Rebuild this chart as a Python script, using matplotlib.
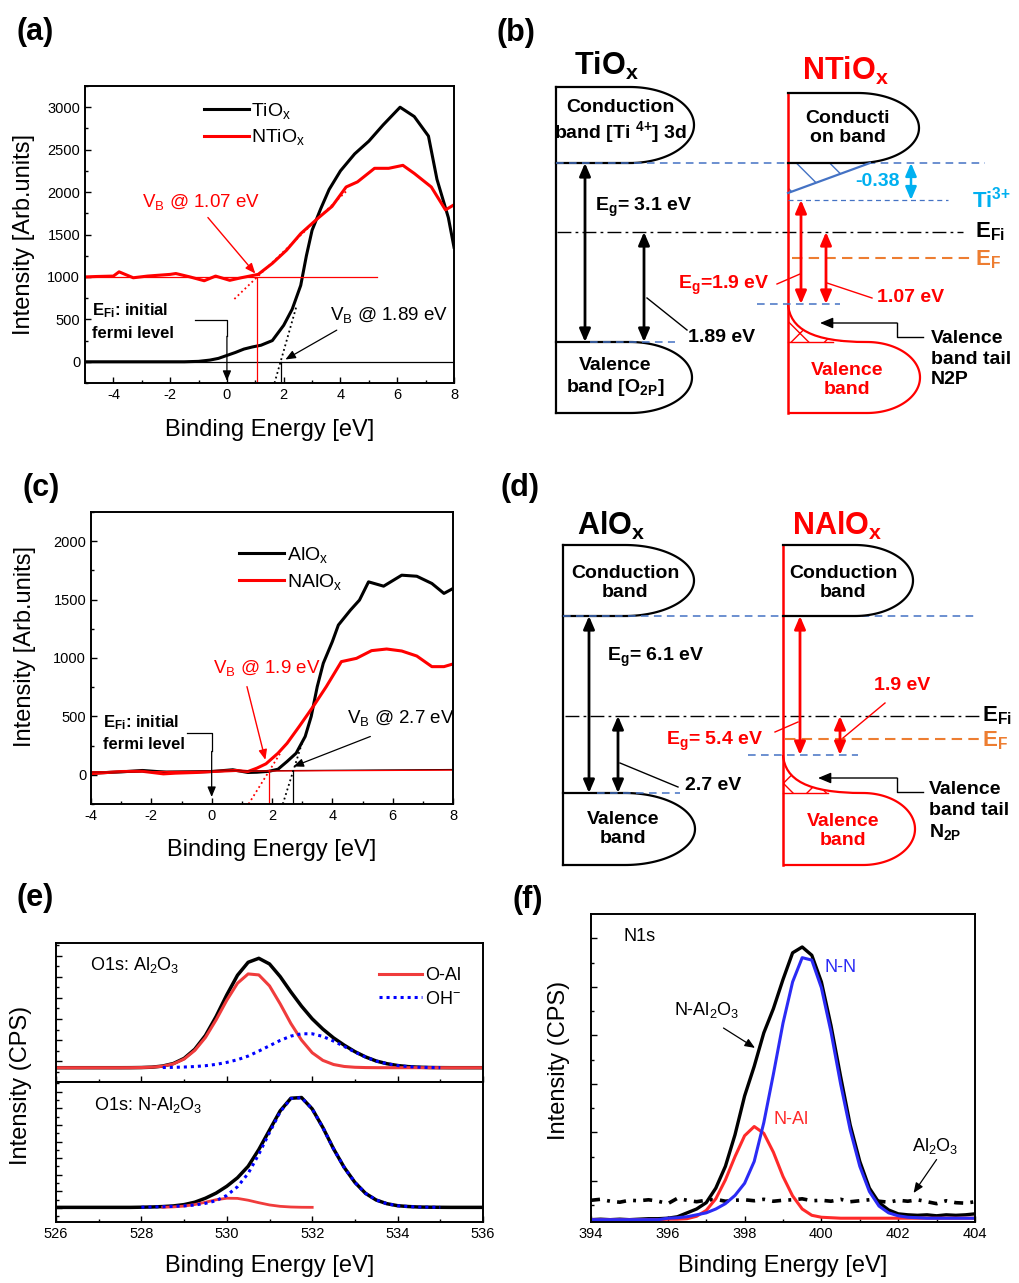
import numpy as np
import matplotlib
matplotlib.use('Agg')
import matplotlib.pyplot as plt
from matplotlib.path import Path
from matplotlib.patches import PathPatch, Polygon
from matplotlib.ticker import MultipleLocator, FixedLocator, NullFormatter

plt.rcParams['font.family'] = ['Liberation Sans', 'DejaVu Sans']
plt.rcParams['mathtext.fontset'] = 'custom'
plt.rcParams['mathtext.rm'] = 'Liberation Sans'
plt.rcParams['mathtext.it'] = 'Liberation Sans:italic'
plt.rcParams['mathtext.bf'] = 'Liberation Sans:bold'
plt.rcParams['mathtext.default'] = 'regular'
plt.rcParams['axes.unicode_minus'] = False

# ---------------- data ----------------
# (a) valence band spectra, TiOx / NTiOx
a_x_tiox = [-5, -4, -3, -2, -1.5, -1.0, -0.6, -0.3, 0.0, 0.3, 0.6, 0.9, 1.2, 1.6,
            2.0, 2.3, 2.6, 2.8, 3.0, 3.3, 3.6, 4.0, 4.5, 5.0, 5.5, 6.1, 6.6, 7.1,
            7.4, 7.8, 8.0]
a_y_tiox = [0, 0, 0, 0, 0, 5, 20, 40, 75, 110, 150, 175, 195, 250,
            430, 620, 900, 1250, 1550, 1800, 2030, 2250, 2450, 2600, 2790, 3000, 2890, 2660,
            2150, 1700, 1350]
a_x_ntiox = [-5, -4.6, -4.0, -3.8, -3.3, -2.8, -2.0, -1.8, -1.3, -0.8, -0.4, 0.1, 0.5,
             1.1, 1.6, 2.1, 2.6, 3.2, 3.7, 4.2, 4.6, 5.2, 5.7, 6.2, 6.6, 7.2, 7.7, 8.0]
a_y_ntiox = [1000, 1005, 1010, 1060, 990, 1010, 1030, 1040, 1000, 955, 1010, 960, 990,
             1030, 1160, 1315, 1510, 1690, 1830, 2060, 2120, 2280, 2280, 2315, 2220, 2060, 1790, 1850]
a_vb = [1.89, 1.07]            # onsets TiOx, NTiOx
a_base = [0, 1000]             # baselines TiOx, NTiOx
a_slope = [1170, 322]          # leading-edge fit slopes

# (c) valence band spectra, AlOx / NAlOx
c_x_alox = [-4, -3, -2.3, -1.5, -0.5, 0, 0.7, 1.2, 1.5, 1.9, 2.2, 2.5, 2.8, 3.1, 3.3, 3.5,
            3.7, 4.0, 4.2, 4.6, 4.9, 5.2, 5.7, 6.3, 6.8, 7.3, 7.7, 8.0]
c_y_alox = [14, 25, 37, 22, 25, 28, 43, 20, 22, 30, 48, 114, 185, 328, 500, 755,
            955, 1140, 1282, 1410, 1496, 1652, 1615, 1709, 1700, 1638, 1553, 1595]
c_x_nalox = [-4, -3, -2.3, -1.6, -1.2, -0.5, 0, 0.8, 1.2, 1.5, 1.8, 2.2, 2.5, 2.9, 3.4,
             3.8, 4.3, 4.8, 5.3, 5.8, 6.3, 6.8, 7.3, 7.7, 8.0]
c_y_nalox = [10, 28, 30, 8, 14, 20, 28, 37, 28, 57, 94, 185, 270, 413, 598,
             755, 969, 997, 1063, 1077, 1060, 1017, 926, 926, 949]
c_vb = [2.7, 1.9]
c_base = [30, 30]
c_slope = [820, 414]

# (e) O1s, 526..536 eV every 0.25 eV
e_x = np.arange(526, 536.001, 0.25)
nan = np.nan
e_top_total = [0, 0, 0, 0, 0, 0, 0, 0.1, 0.5, 1.6, 5.0, 12.6, 28, 55.5, 97, 154, 219, 278,
               317, 329, 312, 274, 228, 185, 147, 116, 89.6, 67.7, 48.3, 32.4, 20.1, 12,
               6.5, 3.2, 1.5, 0.6, 0.2, 0, 0, 0, 0]
e_top_oal = [0, 0, 0, 0, 0, 0, 0, 0.1, 0.5, 1.6, 4.5, 11.6, 26, 52, 91, 144, 203, 254, 282,
             279, 246, 192, 133, 83, 45, 22, 9.6, 3.7, 1.3, 0.4, 0.1, 0, 0, 0, 0, 0, 0, 0,
             0, 0, 0]
e_top_oh = [nan] * 10 + [0.5, 1, 2, 3.5, 6, 10, 16, 24, 35, 50, 66, 82, 95, 102, 102, 94, 80,
                         64, 47, 32, 20, 12, 6.5, 3.2, 1.5, 0.6, 0.2] + [nan] * 4
e_bot_total = [0] * 8 + [0.5, 1.2, 2.4, 4.4, 8.3, 15.5, 27.5, 42.9, 63.5, 89, 123.5, 174,
                         232.3, 290.1, 328.1, 330.3, 296.1, 240, 176, 120, 75, 42, 22, 11,
                         5, 2.5, 1, 0.5, 0.2] + [0] * 4
e_bot_oal = [nan] * 10 + [0.4, 1.4, 3.8, 8.5, 15.5, 22.9, 27.5, 27, 21.5, 14, 7.3, 3.1,
                          1.1, 0.3, 0.1] + [nan] * 16
e_bot_oh = [nan] * 8 + [0.5, 1.2, 2, 3, 4.5, 7, 12, 20, 36, 62, 102, 160, 225, 287, 327,
                        330, 296, 240, 176, 120, 75, 42, 22, 11, 5, 2.5, 1, 0.5, 0.2] + [nan] * 4

# (f) N1s, 394..404 eV every 0.25 eV
f_x = np.arange(394, 404.001, 0.25)
f_total = [0.00, 0.01, 0.00, 0.01, 0.00, 0.01, 0.02, 0.02, 0.03, 0.06, 0.14, 0.22, 0.35,
           0.65, 1.10, 1.75, 2.55, 3.16, 3.85, 4.35, 4.95, 5.50, 5.62, 5.45, 4.90, 4.00,
           2.95, 1.95, 1.20, 0.65, 0.35, 0.20, 0.12, 0.10, 0.09, 0.10, 0.08, 0.10, 0.09,
           0.10, 0.12]
f_nn = [0] * 8 + [0.03, 0.04, 0.06, 0.10, 0.14, 0.22, 0.33, 0.50, 0.75, 1.20, 2.00, 3.00,
                  4.05, 4.90, 5.40, 5.35, 4.78, 3.87, 2.80, 1.85, 1.10, 0.58, 0.28, 0.14,
                  0.08, 0.05, 0.04, 0.03, 0.03, 0.03, 0.03, 0.03, 0.03]
f_nal = [0] * 8 + [0.01, 0.01, 0.02, 0.07, 0.19, 0.43, 0.82, 1.30, 1.73, 1.92, 1.78, 1.39,
                   0.89, 0.49, 0.22, 0.09, 0.05, 0.04, 0.03] + [0.03] * 14
f_al2o3 = [0.40, 0.42, 0.38, 0.36, 0.40, 0.39, 0.41, 0.38, 0.33, 0.44,
           0.40, 0.37, 0.40, 0.42, 0.38, 0.40, 0.41, 0.39, 0.42, 0.38,
           0.40, 0.41, 0.43, 0.39, 0.40, 0.38, 0.42, 0.37, 0.39, 0.41,
           0.38, 0.36, 0.40, 0.38, 0.41, 0.37, 0.33, 0.39, 0.35, 0.34, 0.37]

RED = '#ff0000'
BLUE_D = '#4472c4'
LBLUE = '#00b0f0'
ORANGE = '#ed7d31'

W, H = 1019, 1283
fig = plt.figure(figsize=(W / 100, H / 100), dpi=100)


def box(l, t, r, b):
    return [l / W, 1 - b / H, (r - l) / W, (b - t) / H]


def style(ax):
    ax.tick_params(which='both', direction='in', top=False, right=False, labelsize=10.5, width=1)
    ax.tick_params(which='major', length=4.5)
    ax.tick_params(which='minor', length=2.5)
    for s in ax.spines.values():
        s.set_linewidth(1.4)


def arrow(ax, p_from, p_to, color='k', lw=1.0, ms=10):
    ax.annotate('', xy=p_to, xytext=p_from,
                arrowprops=dict(arrowstyle='-|>,head_length=0.6,head_width=0.25', color=color,
                                lw=lw, shrinkA=0, shrinkB=0, mutation_scale=ms))


def darrow(ax, x, y1, y2, color='k', lw=2.0):
    ax.annotate('', xy=(x, y1), xytext=(x, y2),
                arrowprops=dict(arrowstyle='<|-|>,head_length=0.7,head_width=0.3', color=color,
                                lw=lw, shrinkA=0, shrinkB=0, mutation_scale=11))


def spectrum(ax, xs, ys, labels, xl, ylim_top):
    ax.plot(xs[0], ys[0], color='k', lw=2.2, label=labels[0])
    ax.plot(xs[1], ys[1], color=RED, lw=2.2, label=labels[1])
    ax.set_xlim(*xl)
    ax.set_ylim(-250, ylim_top)
    ax.xaxis.set_major_locator(MultipleLocator(2))
    ax.xaxis.set_minor_locator(MultipleLocator(1))
    ax.yaxis.set_major_locator(MultipleLocator(500))
    ax.yaxis.set_minor_locator(MultipleLocator(250))
    style(ax)
    ax.set_xlabel('Binding Energy [eV]', fontsize=17)
    ax.set_ylabel('Intensity [Arb.units]', fontsize=17)


# ---------------- (a) ----------------
ax = fig.add_axes(box(85, 86, 454, 383))
spectrum(ax, [a_x_tiox, a_x_ntiox], [a_y_tiox, a_y_ntiox], ['TiO$_x$', 'NTiO$_x$'],
         (-5, 8), 3250)
ax.plot([-5, 8], [a_base[0]] * 2, color='k', lw=0.9)
ax.plot([-5, 5.28], [a_base[1]] * 2, color=RED, lw=0.9)
ax.plot([a_vb[1]] * 2, [-250, a_base[1]], color=RED, lw=0.9)
ax.plot([a_vb[0]] * 2, [-250, a_base[0]], color='k', lw=0.9)
yy = np.array([-250, 650])
ax.plot(a_vb[0] + (yy - a_base[0]) / a_slope[0], yy, color='k', lw=1.3, ls=':')
yy = np.array([740, 2030])
ax.plot(a_vb[1] + (yy - a_base[1]) / a_slope[1], yy, color=RED, lw=1.3, ls=':')
ax.text(-2.98, 1885, 'V$_B$ @ 1.07 eV', color=RED, fontsize=13.5, va='center')
arrow(ax, (-0.67, 1700), (1.0, 1040), color=RED, lw=1.0)
ax.text(3.64, 550, 'V$_B$ @ 1.89 eV', color='k', fontsize=13.5, va='center')
arrow(ax, (3.87, 373), (2.06, 27), color='k', lw=0.9)
ax.text(-4.74, 480, 'E$_{Fi}$: initial\nfermi level', fontsize=12, fontweight='bold',
        va='center', linespacing=1.45)
ax.plot([-1.11, 0, 0], [498, 498, 300], color='k', lw=0.9)
arrow(ax, (0, 300), (0, -225), color='k', lw=0.9)
ax.legend(loc='upper left', bbox_to_anchor=(0.322, 0.951), frameon=False, fontsize=14,
          handlelength=2.3, handletextpad=0.15, labelspacing=0.35, borderpad=0,
          borderaxespad=0)
ax.yaxis.set_label_coords(-0.135, 0.5)
ax.xaxis.set_label_coords(0.5, -0.122)

# ---------------- (c) ----------------
ax = fig.add_axes(box(91, 512, 453, 804))
spectrum(ax, [c_x_alox, c_x_nalox], [c_y_alox, c_y_nalox], ['AlO$_x$', 'NAlO$_x$'],
         (-4, 8), 2250)
ax.plot([-4, 8], [25, 45], color='k', lw=0.9)
ax.plot([-4, 8], [25, 40], color=RED, lw=0.9)
ax.plot([c_vb[1]] * 2, [-250, c_base[1]], color=RED, lw=0.9)
ax.plot([c_vb[0]] * 2, [-250, c_base[0] + 5], color='k', lw=0.9)
yy = np.array([-250, 300])
ax.plot(c_vb[0] + (yy - c_base[0]) / c_slope[0], yy, color='k', lw=1.3, ls=':')
yy = np.array([-250, 185])
ax.plot(c_vb[1] + (yy - c_base[1]) / c_slope[1], yy, color=RED, lw=1.3, ls=':')
ax.text(0.06, 912, 'V$_B$ @ 1.9 eV', color=RED, fontsize=13.5, va='center')
arrow(ax, (1.17, 755), (1.78, 128), color=RED, lw=1.0)
ax.text(4.48, 484, 'V$_B$ @ 2.7 eV', color='k', fontsize=13.5, va='center')
arrow(ax, (5.26, 328), (2.71, 71), color='k', lw=0.9)
ax.text(-3.59, 363, 'E$_{Fi}$: initial\nfermi level', fontsize=12, fontweight='bold',
        va='center', linespacing=1.45)
ax.plot([-0.83, 0, 0], [356, 356, 200], color='k', lw=0.9)
arrow(ax, (0, 200), (0, -190), color='k', lw=0.9)
ax.legend(loc='upper left', bbox_to_anchor=(0.41, 0.888), frameon=False, fontsize=14,
          handlelength=2.3, handletextpad=0.15, labelspacing=0.35, borderpad=0,
          borderaxespad=0)
ax.yaxis.set_label_coords(-0.152, 0.538)
ax.xaxis.set_label_coords(0.5, -0.12)

# ---------------- (e) ----------------
E_RED = '#f03c3c'
ax1 = fig.add_axes(box(56, 943, 483, 1082))
ax2 = fig.add_axes(box(56, 1082, 483, 1222), sharex=ax1)
ax1.plot(e_x, e_top_total, color='k', lw=2.5)
ax1.plot(e_x, e_top_oal, color=E_RED, lw=2.2, label='O-Al')
ax1.plot(e_x, e_top_oh, color='#0000ff', lw=2.2, ls=(0, (1, 1.3)), label='OH$^{-}$')
ax2.plot(e_x, e_bot_total, color='k', lw=2.5)
ax2.plot(e_x, e_bot_oal, color=E_RED, lw=2.0)
ax2.plot(e_x, e_bot_oh, color='#0000ff', lw=2.2, ls=(0, (1, 1.3)))
ax1.set_xlim(526, 536)
ax1.set_ylim(-43, 375)
ax2.set_ylim(-44, 377)
for a in (ax1, ax2):
    style(a)
    a.xaxis.set_major_locator(MultipleLocator(2))
    a.xaxis.set_minor_locator(MultipleLocator(1))
    a.yaxis.set_major_formatter(NullFormatter())
ax1.yaxis.set_major_locator(MultipleLocator(63.5, offset=19.5))
ax1.yaxis.set_minor_locator(MultipleLocator(31.75, offset=19.5))
ax2.yaxis.set_major_locator(MultipleLocator(50, offset=48))
ax2.yaxis.set_minor_locator(MultipleLocator(25, offset=23))
ax1.tick_params(labelbottom=False)
ax1.text(526.8, 308, 'O1s: Al$_2$O$_3$', fontsize=13, va='center')
ax2.text(526.9, 308, 'O1s: N-Al$_2$O$_3$', fontsize=13, va='center')
ax1.legend(loc='upper left', bbox_to_anchor=(0.756, 0.824), frameon=False, fontsize=13,
           handlelength=2.4, handletextpad=0.15, labelspacing=0.35, borderpad=0,
           borderaxespad=0)
ax2.set_xlabel('Binding Energy [eV]', fontsize=17)
ax2.xaxis.set_label_coords(0.5, -0.235)
fig.text(21 / W, 1 - 1085 / H, 'Intensity (CPS)', rotation=90, fontsize=17,
         ha='center', va='center')

# ---------------- (f) ----------------
F_BLUE = '#2b2bf5'
F_RED = '#ff2a2a'
ax = fig.add_axes(box(591, 914, 975, 1222))
ax.plot(f_x, f_al2o3, color='k', lw=2.6, dashes=(2.5, 2, 0.8, 2))
ax.plot(f_x, f_total, color='k', lw=2.4)
ax.plot(f_x, f_nal, color=F_RED, lw=2.2)
ax.plot(f_x, f_nn, color=F_BLUE, lw=2.2)
ax.set_xlim(394, 404)
ax.set_ylim(-0.048, 6.30)
ax.xaxis.set_major_locator(MultipleLocator(2))
ax.xaxis.set_minor_locator(MultipleLocator(1))
ax.yaxis.set_major_locator(FixedLocator(np.arange(0.8, 6.0, 1.0)))
ax.yaxis.set_minor_locator(FixedLocator(np.arange(0.3, 6.0, 1.0)))
ax.yaxis.set_major_formatter(NullFormatter())
style(ax)
ax.text(394.84, 5.84, 'N1s', fontsize=13, va='center')
ax.text(400.07, 5.19, 'N-N', fontsize=13, va='center', color=F_BLUE)
ax.text(398.75, 2.06, 'N-Al', fontsize=13, va='center', color=F_RED)
ax.text(396.15, 4.33, 'N-Al$_2$O$_3$', fontsize=13, va='center')
arrow(ax, (397.45, 3.95), (398.27, 3.54), lw=0.9)
ax.text(402.36, 1.51, 'Al$_2$O$_3$', fontsize=13, va='center')
arrow(ax, (403.0, 1.24), (402.4, 0.55), lw=0.9)
ax.set_xlabel('Binding Energy [eV]', fontsize=17)
ax.set_ylabel('Intensity (CPS)', fontsize=17)
ax.yaxis.set_label_coords(-0.055, 0.526)
ax.xaxis.set_label_coords(0.5, -0.108)


# ---------------- band diagrams (b), (d) ----------------
def d_band(ax, x0, xe, tip, top, bot, color='k', lw=1.6):
    t = np.linspace(-np.pi / 2, np.pi / 2, 80)
    xs = np.concatenate([[x0, xe], xe + (tip - xe) * np.cos(t), [x0]])
    ys = np.concatenate([[top, top], (top + bot) / 2 + (bot - top) / 2 * np.sin(t), [bot]])
    ax.plot(xs, ys, color=color, lw=lw)


def tail_band(ax, x0, xe, tip, ttop, top, bot, color, lw=1.6):
    t = np.linspace(-np.pi / 2, np.pi / 2, 80)
    ex = xe + (tip - xe) * np.cos(t)
    ey = (top + bot) / 2 + (bot - top) / 2 * np.sin(t)
    tv = [(x0, ttop), (x0 + 2, ttop + 0.65 * (top - ttop)), (x0 + 0.3 * (xe - x0), top), (xe, top)]
    verts = tv + list(zip(ex[1:], ey[1:])) + [(x0, bot)]
    codes = [Path.MOVETO] + [Path.CURVE4] * 3 + [Path.LINETO] * len(ex)
    ax.add_patch(PathPatch(Path(verts, codes), fill=False, edgecolor=color, lw=lw))
    hv = tv + [(x0, top), (x0, ttop)]
    hc = [Path.MOVETO] + [Path.CURVE4] * 3 + [Path.LINETO, Path.CLOSEPOLY]
    ax.add_patch(PathPatch(Path(hv, hc), facecolor='none', edgecolor=color, lw=0, hatch='x'))
    ax.plot([x0, x0 + 45], [top, top], color=color, lw=1.0)


def hline(ax, x1, x2, y, color, lw, dashes):
    ax.plot([x1, x2], [y, y], color=color, lw=lw, dashes=dashes)


def elbow(ax, xs, ys, tip_x):
    ax.plot(xs, ys, color='k', lw=1.0)
    arrow(ax, (xs[-1], ys[-1]), (tip_x, ys[-1]), lw=1.0, ms=13)


TB = dict(fontsize=14, fontweight='bold')

# (b) TiOx / NTiOx, local pixel frame of the panel
b_left = [66, 140, 204]          # x0, ellipse start, tip (left column)
b_right = [298, 368, 429]
b_cb = [87, 163]                 # conduction band top, bottom
b_vb = [342, 413]                # valence band top, bottom
b_efi, b_ef, b_ti3, b_tail = 232, 258, 200, 304

axb = fig.add_axes(box(490, 0, 1019, 420))
axb.set_xlim(0, 529)
axb.set_ylim(420, 0)
axb.axis('off')
axb.text(116, 75, 'TiO$_x$', fontsize=22, fontweight='bold', ha='center', va='baseline')
axb.text(355, 80, 'NTiO$_x$', fontsize=22, fontweight='bold', ha='center', va='baseline', color=RED)
axb.plot([b_left[0]] * 2, [b_cb[0], b_vb[1]], color='k', lw=1.6)
d_band(axb, b_left[0], b_left[1], b_left[2], b_cb[0], b_cb[1])
d_band(axb, b_left[0], b_left[1], b_left[2] - 2, b_vb[0], b_vb[1])
axb.text(130, 122, 'Conduction\nband [Ti $^{4{+}}$] 3d', ha='center', va='center', **TB)
axb.text(125, 378, 'Valence\nband [O$_{2P}$]', ha='center', va='center', **TB)
hline(axb, b_left[0], 495, b_cb[1], BLUE_D, 1.1, (5, 3.5))
darrow(axb, 95, b_cb[1], b_vb[0])
axb.text(105, 207, 'E$_g$= 3.1 eV', va='center', **TB)
hline(axb, 67, 473, b_efi, 'k', 1.0, (10, 3, 2, 3))
axb.text(485, b_efi, 'E$_{Fi}$', fontsize=16, fontweight='bold', va='center')
darrow(axb, 154, b_efi, b_vb[0])
axb.plot([157, 197], [298, 330], color='k', lw=1.0)
axb.text(198, 337, '1.89 eV', va='center', **TB)
hline(axb, 100, 185, b_vb[0], BLUE_D, 1.1, (5, 3.5))

axb.plot([b_right[0]] * 2, [93, b_vb[1]], color=RED, lw=1.8)
d_band(axb, b_right[0], b_right[1], b_right[2], 93, b_cb[1])
axb.text(358, 128, 'Conducti\non band', ha='center', va='center', **TB)
axb.add_patch(Polygon([(b_right[0], b_cb[1]), (b_right[0] + 82, b_cb[1]), (b_right[0], b_ti3 - 7)],
                      closed=True, facecolor='none', edgecolor=BLUE_D, lw=0, hatch='\\'))
axb.plot([b_right[0], b_right[0] + 82], [b_ti3 - 7, b_cb[1]], color=BLUE_D, lw=1.6)
hline(axb, b_right[0], 458, b_ti3, BLUE_D, 0.9, (4, 3))
axb.text(482, b_ti3, 'Ti$^{3{+}}$', color=LBLUE, fontsize=16, fontweight='bold', va='center')
axb.text(387, 182, '-0.38', color=LBLUE, ha='center', va='center', **TB)
darrow(axb, 421, b_cb[1], b_ti3, color=LBLUE, lw=1.8)
darrow(axb, 311, b_ti3, b_tail, color=RED)
darrow(axb, 336, b_efi, b_tail, color=RED)
hline(axb, 302, 480, b_ef, ORANGE, 1.5, (5, 3))
axb.text(485, b_ef + 2, 'E$_F$', color=ORANGE, fontsize=16, fontweight='bold', va='center')
hline(axb, 267, 350, b_tail, BLUE_D, 1.1, (5, 3.5))
axb.text(234, 285, 'E$_g$=1.9 eV', color=RED, ha='center', va='center', **TB)
axb.plot([287, 310], [284, 274], color=RED, lw=1.0)
axb.plot([337, 382], [283, 298], color=RED, lw=1.0)
axb.text(387, 298, '1.07 eV', color=RED, va='center', **TB)
tail_band(axb, b_right[0], 377, 430, b_tail, b_vb[0], b_vb[1], RED)
elbow(axb, [433, 407, 407], [337, 337, 323], 330)
axb.text(441, 359, 'Valence\nband tail\nN2P', va='center', linespacing=1.25, **TB)
axb.text(357, 380, 'Valence\nband', color=RED, ha='center', va='center', **TB)

# (d) AlOx / NAlOx
d_left = [73, 135, 204]
d_right = [293, 365, 423]
d_cb = [85, 156]
d_vb = [333, 405]
d_efi, d_ef, d_tail = 256, 279, 295

axd = fig.add_axes(box(490, 460, 1019, 880))
axd.set_xlim(0, 529)
axd.set_ylim(420, 0)
axd.axis('off')
axd.text(121, 75, 'AlO$_x$', fontsize=22, fontweight='bold', ha='center', va='baseline')
axd.text(347, 75, 'NAlO$_x$', fontsize=22, fontweight='bold', ha='center', va='baseline', color=RED)
axd.plot([d_left[0]] * 2, [d_cb[0], d_vb[1]], color='k', lw=1.6)
d_band(axd, d_left[0], d_left[1], d_left[2], d_cb[0], d_cb[1])
d_band(axd, d_left[0], d_left[1], d_left[2] + 1, d_vb[0], d_vb[1])
axd.text(135, 123, 'Conduction\nband', ha='center', va='center', **TB)
axd.text(133, 369, 'Valence\nband', ha='center', va='center', **TB)
hline(axd, d_left[0], 488, d_cb[1], BLUE_D, 1.1, (5, 3.5))
darrow(axd, 99, d_cb[1], d_vb[0])
axd.text(117, 197, 'E$_g$= 6.1 eV', va='center', **TB)
hline(axd, 75, 490, d_efi, 'k', 1.0, (10, 3, 2, 3))
axd.text(492, d_efi, 'E$_{Fi}$', fontsize=16, fontweight='bold', va='center')
darrow(axd, 128, d_efi, d_vb[0])
axd.plot([130, 188], [303, 327], color='k', lw=1.0)
axd.text(195, 325, '2.7 eV', va='center', **TB)
hline(axd, 107, 190, d_vb[0], BLUE_D, 1.1, (5, 3.5))

axd.plot([d_right[0]] * 2, [d_cb[0], d_vb[1]], color=RED, lw=1.8)
d_band(axd, d_right[0], d_right[1], d_right[2], d_cb[0], d_cb[1])
axd.text(353, 123, 'Conduction\nband', ha='center', va='center', **TB)
darrow(axd, 310, d_cb[1], d_tail, color=RED)
darrow(axd, 350, d_efi, d_tail, color=RED)
hline(axd, 295, 490, d_ef, ORANGE, 1.5, (5, 3))
axd.text(492, d_ef + 2, 'E$_F$', color=ORANGE, fontsize=16, fontweight='bold', va='center')
hline(axd, 258, 368, d_tail, BLUE_D, 1.1, (5, 3.5))
axd.text(225, 281, 'E$_g$= 5.4 eV', color=RED, ha='center', va='center', **TB)
axd.plot([285, 308], [272, 262], color=RED, lw=1.0)
axd.text(412, 225, '1.9 eV', color=RED, ha='center', va='center', **TB)
axd.plot([395, 353], [243, 278], color=RED, lw=1.0)
tail_band(axd, d_right[0], 373, 425, d_tail, d_vb[0], d_vb[1], RED)
elbow(axd, [433, 407, 407], [332, 332, 318], 328)
axd.text(439, 352, 'Valence\nband tail\nN$_{2P}$', va='center', linespacing=1.25, **TB)
axd.text(353, 371, 'Valence\nband', color=RED, ha='center', va='center', **TB)

# panel letters
for lab, x, y in [('(a)', 17, 32), ('(b)', 497, 33), ('(c)', 22, 488),
                  ('(d)', 500, 488), ('(e)', 17, 898), ('(f)', 512, 900)]:
    fig.text(x / W, 1 - y / H, lab, fontsize=22, fontweight='bold', va='center')

fig.savefig('out.png', dpi=100)
